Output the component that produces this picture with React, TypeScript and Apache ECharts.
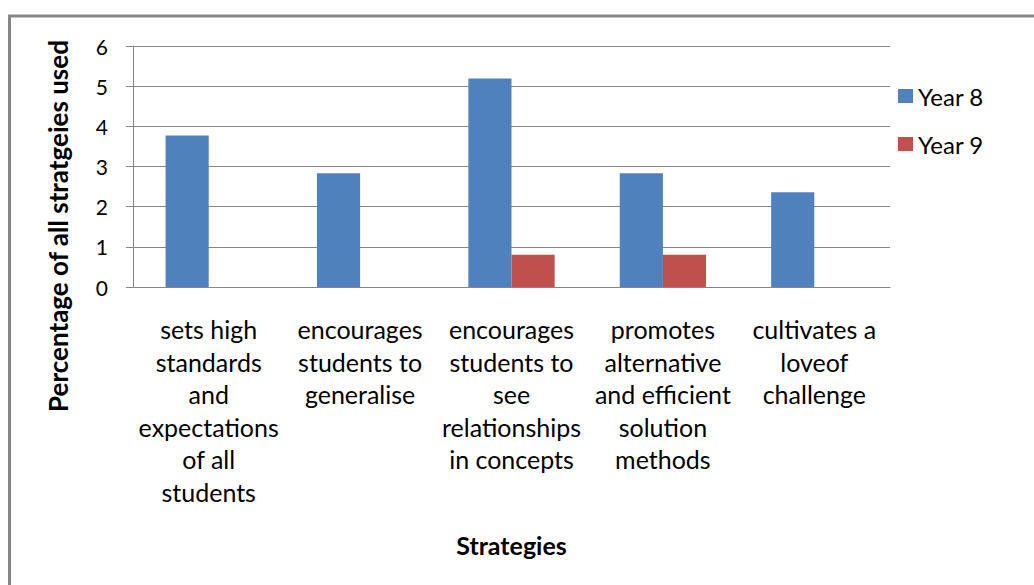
import React, { useEffect, useRef } from "react";
import * as echarts from "echarts";

const categories = [
  "sets high\nstandards\nand\nexpectations\nof all\nstudents",
  "encourages\nstudents to\ngeneralise",
  "encourages\nstudents to\nsee\nrelationships\nin concepts",
  "promotes\nalternative\nand efficient\nsolution\nmethods",
  "cultivates a\nloveof\nchallenge",
];
const year8 = [3.77, 2.83, 5.19, 2.83, 2.36];
const year9 = [0, 0, 0.8, 0.8, 0];
const seriesNames = ["Year 8", "Year 9"];
const yTicks = { min: 0, max: 6, interval: 1 };

const FONT = "Lato, 'Open Sans', sans-serif";
const GRAY = "#868686";

export default function App() {
  const ref = useRef<HTMLDivElement>(null);
  useEffect(() => {
    if (!ref.current) return;
    const chart = echarts.init(ref.current, null, { renderer: "svg" });
    chart.setOption({
      animation: false,
      backgroundColor: "#ffffff",
      textStyle: { fontFamily: FONT },
      grid: { left: 133, right: 144, top: 46, bottom: 298, containLabel: false },
      legend: {
        orient: "vertical",
        left: 893,
        top: 79,
        itemWidth: 15,
        itemHeight: 14,
        itemGap: 24,
        icon: "rect",
        textStyle: { fontFamily: FONT, fontSize: 24, color: "#000" },
        data: seriesNames,
      },
      xAxis: {
        type: "category",
        data: categories,
        name: "Strategies",
        nameLocation: "middle",
        nameGap: 245,
        nameTextStyle: { fontFamily: FONT, fontSize: 25, fontWeight: "bold", color: "#000" },
        axisLine: { lineStyle: { color: GRAY, width: 1 } },
        axisTick: { show: false },
        axisLabel: {
          interval: 0,
          margin: 26,
          fontFamily: FONT,
          fontSize: 25,
          lineHeight: 32.5,
          color: "#000",
          align: "center",
        },
      },
      yAxis: {
        type: "value",
        min: yTicks.min,
        max: yTicks.max,
        interval: yTicks.interval,
        axisLine: { show: true, lineStyle: { color: GRAY, width: 1 } },
        axisTick: { show: true, length: 7, lineStyle: { color: GRAY } },
        splitLine: { show: true, lineStyle: { color: GRAY, width: 1 } },
        axisLabel: { fontFamily: FONT, fontSize: 21, color: "#000", margin: 25 },
      },
      series: [
        {
          name: seriesNames[0],
          type: "bar",
          data: year8,
          itemStyle: { color: "#4F81BD" },
          barGap: "0%",
          barCategoryGap: "43%",
        },
        {
          name: seriesNames[1],
          type: "bar",
          data: year9,
          itemStyle: { color: "#C0504D" },
          barGap: "0%",
          barCategoryGap: "43%",
        },
      ],
      graphic: [
        {
          type: "polyline",
          shape: { points: [[9.5, 700], [9.5, 16], [1100, 16]] },
          style: { stroke: "#878787", lineWidth: 3, fill: null },
          silent: true,
        },
        {
          type: "text",
          x: 58,
          y: 226,
          rotation: Math.PI / 2,
          style: {
            text: "Percentage of all stratgeies used",
            fontFamily: FONT,
            fontSize: 26,
            fontWeight: "bold",
            fill: "#000",
            align: "center",
            verticalAlign: "middle",
          },
        },
      ],
    });
    return () => chart.dispose();
  }, []);
  return (
    <div
      ref={ref}
      style={{ position: "fixed", left: 0, top: 0, width: 1034, height: 585 }}
    />
  );
}
